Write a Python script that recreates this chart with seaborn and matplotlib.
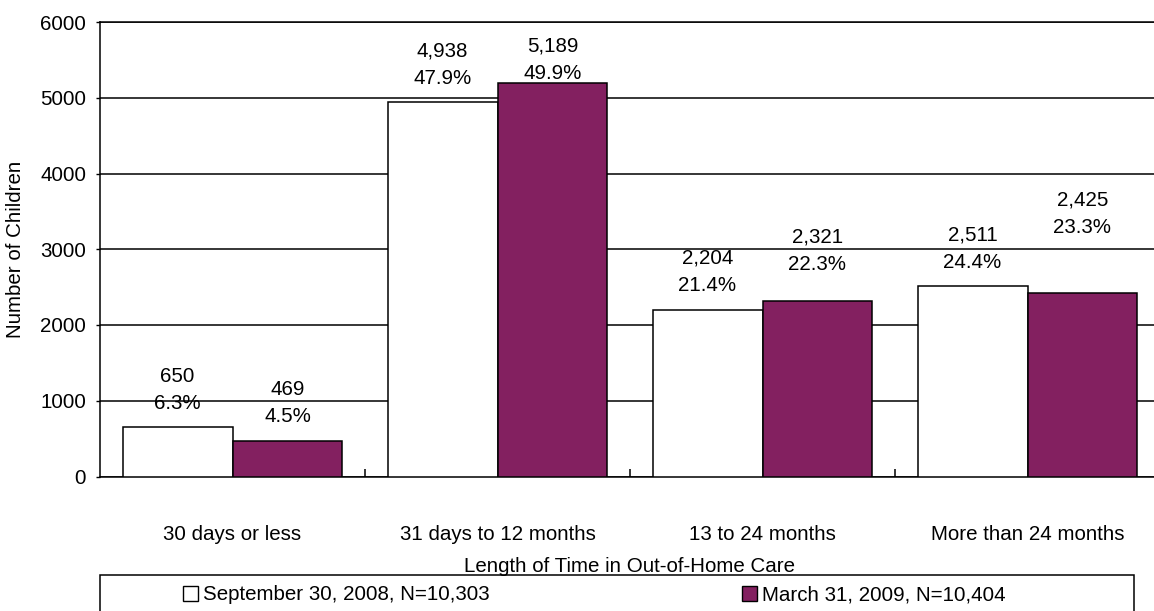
import matplotlib
matplotlib.use("Agg")
import matplotlib.pyplot as plt
import seaborn as sns
import pandas as pd
from matplotlib.patches import Rectangle, Patch

# ---------------- data ----------------
categories = ["30 days or less", "31 days to 12 months", "13 to 24 months", "More than 24 months"]
series_names = ["September 30, 2008, N=10,303", "March 31, 2009, N=10,404"]
sep2008_counts = [650, 4938, 2204, 2511]
mar2009_counts = [469, 5189, 2321, 2425]
sep2008_pct = [6.3, 47.9, 21.4, 24.4]
mar2009_pct = [4.5, 49.9, 22.3, 23.3]
y_ticks = [0, 1000, 2000, 3000, 4000, 5000, 6000]
x_title = "Length of Time in Out-of-Home Care"
y_title = "Number of Children"

# ---------------- style ----------------
colors = ["#ffffff", "#832060"]
label_lift = [[492, 494, 502, 492], [501, 313, 656, 1040]]  # label placement above bars (as in source)
FS = 14.8

sns.set_theme(style="white")
plt.rcParams["font.family"] = ["Liberation Sans", "DejaVu Sans"]
plt.rcParams["text.color"] = "black"
plt.rcParams["axes.labelcolor"] = "black"
plt.rcParams["xtick.color"] = "black"
plt.rcParams["ytick.color"] = "black"

df = pd.DataFrame({
    "category": categories * 2,
    "series": [series_names[0]] * 4 + [series_names[1]] * 4,
    "count": sep2008_counts + mar2009_counts,
})
pcts = [sep2008_pct, mar2009_pct]

W, H = 1154, 611
fig = plt.figure(figsize=(W / 100, H / 100), dpi=100)
ax = fig.add_axes([100 / W, 1 - 476.5 / H, 1060 / W, 454.5 / H])

sns.barplot(data=df, x="category", y="count", hue="series", order=categories,
            hue_order=series_names, palette=colors, width=0.83, saturation=1,
            edgecolor="black", linewidth=1.1, ax=ax, legend=False, zorder=3)

ax.set_xlim(-0.5, 3.5)
ax.set_ylim(0, 6000)
ax.set_yticks(y_ticks)
ax.set_yticklabels([str(v) for v in y_ticks])
ax.yaxis.grid(True, color="black", linewidth=1.1)
ax.xaxis.grid(False)
ax.set_axisbelow(True)
ax.set_xlabel("")
ax.set_ylabel("")

for s in ["left", "bottom", "top"]:
    ax.spines[s].set_color("black")
    ax.spines[s].set_linewidth(1.1)
ax.spines["right"].set_visible(False)

ax.tick_params(axis="y", left=True, direction="out", length=3, width=1, color="black",
               labelsize=FS, pad=7, labelcolor="black")
ax.tick_params(axis="x", which="major", length=0, pad=35, labelsize=FS, labelcolor="black")
ax.set_xticks([0.5, 1.5, 2.5], minor=True)
ax.tick_params(axis="x", which="minor", bottom=True, direction="in", length=6,
               width=1.1, color="black")

# bar value labels
for si, cont in enumerate(ax.containers):
    for ci, bar in enumerate(cont):
        v = bar.get_height()
        xc = bar.get_x() + bar.get_width() / 2
        ax.text(xc, v + label_lift[si][ci], f"{int(round(v)):,}\n{pcts[si][ci]}%",
                ha="center", va="center", fontsize=FS, linespacing=1.55, color="black")

fig.text(630 / W, 1 - 567 / H, x_title, ha="center", va="center", fontsize=FS, color="black")
fig.text(16 / W, 1 - 249 / H, y_title, ha="center", va="center", rotation=90, fontsize=FS,
         color="black")

# legend box
fig.patches.append(Rectangle((100 / W, -0.05), (1134 - 100) / W, (611 - 575) / H + 0.05,
                             transform=fig.transFigure, fill=False, edgecolor="black",
                             linewidth=1.1))
for name, col, xpos in zip(series_names, colors, [183, 742]):
    leg = fig.legend(handles=[Patch(facecolor=col, edgecolor="black", linewidth=1)], labels=[name],
                     loc="center left", bbox_to_anchor=(xpos / W, 1 - 595 / H), frameon=False,
                     borderpad=0, borderaxespad=0, handlelength=0.75, handleheight=0.7,
                     handletextpad=0.2, fontsize=FS)
    for t in leg.get_texts():
        t.set_color("black")

fig.savefig("out.png", dpi=100)
